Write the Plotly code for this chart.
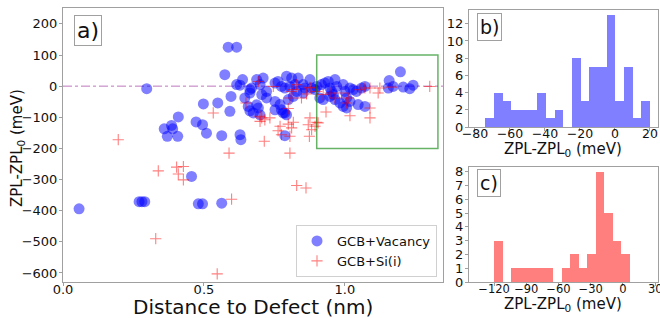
import plotly.graph_objects as go
import numpy as np

# ---------------- data ----------------
vac_x = [0.586, 0.616, 0.297, 0.574, 0.637, 0.616, 0.628, 0.687, 0.663, 0.596,
         0.645, 0.498, 0.549, 0.592, 0.657, 0.687, 0.675, 0.409, 0.472, 0.495,
         0.385, 0.359, 0.389, 0.509, 0.370, 0.407, 0.563, 0.628, 0.631, 0.057,
         0.270, 0.280, 0.290, 0.456, 0.480, 0.495, 0.563, 0.710, 0.699, 0.669,
         0.663, 0.693, 0.663, 0.699, 0.722, 0.752, 0.763, 0.793, 0.811, 0.834,
         0.775, 0.787, 0.805, 0.823, 0.852, 0.858, 0.882, 0.894, 0.752, 0.770,
         0.752, 0.775, 0.787, 0.793, 0.781, 0.799, 0.817, 0.829, 0.852, 0.722,
         0.705, 0.787, 1.197, 1.157, 1.154, 1.171, 1.207, 1.230, 1.242, 0.876,
         0.900, 0.917, 0.929, 0.941, 0.965, 0.911, 0.923, 0.947, 0.953, 0.971,
         0.994, 1.000, 1.018, 1.029, 1.041, 1.059, 1.071, 0.965, 0.982, 0.994,
         1.006, 1.047, 1.071, 1.006, 1.018, 0.947, 0.959]
vac_y = [125, 125, -8, 37, 21, 5, 3, 21, -11, -33,
         -38, -57, -54, -81, -65, -60, -86, -99, -115, -124,
         -126, -137, -137, -151, -161, -161, -159, -156, -172, -394,
         -371, -371, -371, -290, -378, -378, -376, 26, 5, -6,
         -22, -70, -79, -92, -17, 10, 15, 32, 26, 26,
         -1, -6, -1, 5, 5, -6, -6, -11, -49, -59,
         -76, -76, -86, -92, -86, -43, -33, -17, -22, -38,
         -27, -159, 46, 18, -6, -1, -3, -8, 3, 21,
         -1, 5, 10, 15, 21, -38, -43, -6, -17, -1,
         5, -17, -6, -11, -17, -6, -1, -43, -54, -65,
         -70, -59, -65, -38, -49, -33, -27]

si_x = [0.196, 0.589, 0.403, 0.427, 0.338, 0.409, 0.427, 0.598, 0.329, 0.547,
        0.533, 0.693, 0.649, 0.805, 0.829, 0.862, 0.714, 0.746, 0.829, 0.876,
        0.811, 0.864, 0.846, 0.805, 0.799, 0.705, 0.716, 0.734, 0.699, 0.799,
        0.817, 0.770, 0.763, 0.775, 0.876, 0.870, 0.882, 0.894, 0.874, 0.900,
        0.805, 0.876, 0.900, 0.923, 0.947, 0.965, 0.988, 1.012, 1.006, 1.053,
        1.071, 1.089, 1.124, 1.118, 1.165, 1.301, 0.933, 1.018, 1.089, 1.089,
        0.817, 0.811, 0.699, 0.905]
si_y = [-172, -215, -260, -258, -272, -282, -301, -363, -490, -603,
        -86, 15, -54, -215, -319, -327, -177, -1, 5, -6,
        -17, -25, -38, -38, -72, -102, -108, -102, -113, -122,
        -116, -129, -143, -156, -102, -124, -140, -129, -161, -116,
        -161, -4, -17, -27, -22, -38, -22, -38, -54, -11,
        -6, -6, -6, -22, -3, -1, -83, -95, -102, -70,
        -11, -134, -97, -118]

# histogram b (GCB+Vacancy)
b_counts = [1, 4, 3, 2, 2, 2, 4, 1, 2, 0, 8, 3, 7, 7, 13, 3, 7, 1, 3]
b_edge_lo, b_edge_hi = -74.0, 20.0
# histogram c (GCB+Si(i))
c_counts = [3, 0, 1, 1, 1, 1, 1, 0, 1, 2, 1, 2, 8, 5, 3, 2]
c_edge_lo, c_edge_hi = -120.0, 6.4

box_x = [0.90, 1.33]
box_y = [-200, 100]

# ---------------- figure ----------------
W, H = 660, 318
def fx(p): return p / W
def fy(p): return 1 - p / H

fig = go.Figure()

fig.add_trace(go.Scatter(
    x=vac_x, y=vac_y, mode="markers", name="GCB+Vacancy",
    marker=dict(size=11, color="rgba(0,0,255,0.5)", line=dict(width=0)),
    xaxis="x", yaxis="y"))
fig.add_trace(go.Scatter(
    x=si_x, y=si_y, mode="markers", name="GCB+Si(i)",
    marker=dict(symbol="cross-thin", size=8,
                line=dict(width=1.1, color="rgba(255,0,0,0.5)")),
    xaxis="x", yaxis="y"))

b_edges = np.linspace(b_edge_lo, b_edge_hi, len(b_counts) + 1)
b_w = b_edges[1] - b_edges[0]
fig.add_trace(go.Bar(
    x=(b_edges[:-1] + b_w / 2), y=b_counts, width=b_w,
    marker=dict(color="rgba(0,0,255,0.5)", line=dict(width=0)),
    showlegend=False, xaxis="x2", yaxis="y2"))

c_edges = np.linspace(c_edge_lo, c_edge_hi, len(c_counts) + 1)
c_w = c_edges[1] - c_edges[0]
fig.add_trace(go.Bar(
    x=(c_edges[:-1] + c_w / 2), y=c_counts, width=c_w,
    marker=dict(color="rgba(255,0,0,0.5)", line=dict(width=0)),
    showlegend=False, xaxis="x3", yaxis="y3"))

def ax(fs=13, standoff=0):
    return dict(showline=True, linecolor="#a0a0a0", linewidth=1, mirror=True,
                ticks="outside", ticklen=3, tickcolor="#a0a0a0",
                showgrid=False, zeroline=False, automargin=False, tickangle=0,
                ticklabelstandoff=standoff, ticklabeloverflow="allow",
                tickfont=dict(family="DejaVu Sans", size=fs, color="#111"))

fig.update_layout(
    width=W, height=H, margin=dict(l=0, r=0, t=0, b=0, autoexpand=False),
    plot_bgcolor="white", paper_bgcolor="white",
    bargap=0,
    font=dict(family="DejaVu Sans", color="#111"),
    xaxis=dict(domain=[fx(63), fx(443)], range=[0.0, 1.348],
               tickvals=[0.0, 0.5, 1.0], ticktext=["0.0", "0.5", "1.0"],
               anchor="y", **ax(13, -8)),
    yaxis=dict(domain=[fy(282), fy(8)], range=[-629, 251],
               tickvals=list(range(-600, 201, 100)),
               anchor="x", **ax(13, -1)),
    xaxis2=dict(domain=[fx(469), fx(658)], range=[-83.4, 24.6],
                tickvals=[-80, -60, -40, -20, 0, 20],
                anchor="y2", **ax(12.5, -8)),
    yaxis2=dict(domain=[fy(127), fy(10)], range=[0, 13.6],
                tickvals=[0, 2, 4, 6, 8, 10, 12], anchor="x2", **ax(13, -1)),
    xaxis3=dict(domain=[fx(469), fx(658)], range=[-143.3, 32.6],
                tickvals=[-120, -90, -60, -30, 0, 30],
                anchor="y3", **ax(11.5, -7)),
    yaxis3=dict(domain=[fy(282), fy(167)], range=[0, 8.35],
                tickvals=list(range(0, 9)), anchor="x3", **ax(13, -1)),
    legend=dict(x=fx(437), xanchor="right", y=fy(277), yanchor="bottom",
                bgcolor="white", bordercolor="#d0d0d0", borderwidth=1,
                font=dict(size=13, family="DejaVu Sans"),
                itemsizing="trace", tracegroupgap=0),
)

# zero reference line across main plot
fig.add_shape(type="line", xref="x domain", yref="y", x0=0, x1=1, y0=0, y1=0,
              line=dict(color="rgba(160,60,160,0.7)", width=1, dash="dashdot"),
              layer="below")
# green zoom box
fig.add_shape(type="rect", xref="x", yref="y",
              x0=box_x[0], x1=box_x[1], y0=box_y[0], y1=box_y[1],
              line=dict(color="rgba(0,128,0,0.6)", width=1.5))

# axis titles as annotations
titles = [
    ("Distance to Defect (nm)", 253, 307, 20, 0),
    ("ZPL-ZPL<sub>0</sub> (meV)", 17, 148, 15, -90),
    ("ZPL-ZPL<sub>0</sub> (meV)", 563, 149, 15, 0),
    ("ZPL-ZPL<sub>0</sub> (meV)", 563, 304, 15, 0),
]
for txt, x, y, sz, ang in titles:
    fig.add_annotation(text=txt, xref="paper", yref="paper", x=fx(x), y=fy(y),
                       xanchor="center", yanchor="middle", showarrow=False,
                       textangle=ang, font=dict(size=sz, family="DejaVu Sans", color="#111"))

# panel labels
for txt, x, y, sz in [("a)", 74, 15, 22), ("b)", 477, 13, 19), ("c)", 477, 169, 19)]:
    fig.add_annotation(text=txt, xref="paper", yref="paper", x=fx(x), y=fy(y),
                       xanchor="left", yanchor="top", showarrow=False,
                       font=dict(size=sz, family="DejaVu Sans", color="#111"),
                       bgcolor="white", bordercolor="#a0a0a0", borderwidth=1,
                       borderpad=2)

fig.write_html("out.html", config={"displayModeBar": False},
               post_script="document.body.style.margin='0';document.body.style.overflow='hidden';")
